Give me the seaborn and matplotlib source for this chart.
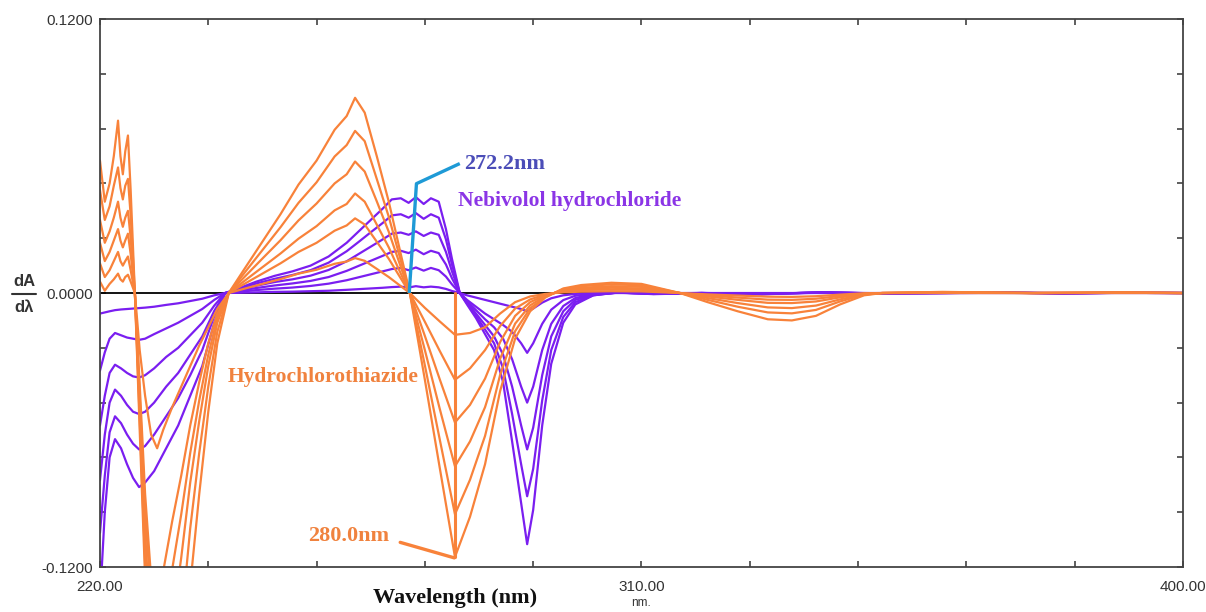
import numpy as np
import pandas as pd
import matplotlib
matplotlib.use("Agg")
import matplotlib.pyplot as plt
import seaborn as sns
from matplotlib.lines import Line2D

# ---------------- data ----------------
wl_hctz = [220.0, 220.8, 221.6, 222.3, 223.0, 223.4, 223.8, 224.2, 224.65, 225.1,
           225.8, 226.6, 227.5, 228.5, 229.5, 230.5, 232.0, 233.5, 235.0, 236.5, 238.0, 239.5, 241.4,
           244.0, 247.0, 250.0, 253.0, 256.0, 259.0, 261.0, 262.4, 264.0, 266.0, 268.0, 270.0, 271.5,
           274.0, 276.5, 279.0, 281.5, 284.0, 286.5, 289.0, 291.5, 294.0, 297.0, 300.0, 305.0, 310.0,
           316.4, 321.0, 326.0, 331.0, 335.0, 339.0, 343.0, 347.0, 350.0, 360.0, 375.0, 390.0, 400.0]

hctz_1 = [0.058, 0.040, 0.048, 0.060, 0.0755, 0.060, 0.052, 0.062, 0.069, 0.045,
          0.000, -0.060, -0.125, -0.190, -0.230, -0.245, -0.220, -0.175, -0.128, -0.088, -0.052, -0.022, 0.000,
          0.0105, 0.0225, 0.0345, 0.0475, 0.058, 0.0715, 0.0775, 0.0855, 0.079, 0.060, 0.040, 0.017, 0.000,
          -0.038, -0.077, -0.1156, -0.098, -0.075, -0.043, -0.020, -0.008, -0.002, 0.002, 0.0035, 0.0045, 0.004,
          0.000, -0.004, -0.008, -0.0115, -0.012, -0.010, -0.005, -0.001, 0.000, 0.0005, 0.000, 0.0003, 0.000]
hctz_2 = [0.045, 0.032, 0.038, 0.047, 0.055, 0.046, 0.041, 0.047, 0.050, 0.034,
          0.000, -0.055, -0.118, -0.165, -0.195, -0.200, -0.180, -0.145, -0.103, -0.070, -0.041, -0.017, 0.000,
          0.0088, 0.0188, 0.0288, 0.0395, 0.0485, 0.0598, 0.0648, 0.0710, 0.0665, 0.0500, 0.0334, 0.0142, 0.000,
          -0.0317, -0.0645, -0.0969, -0.0818, -0.0626, -0.0359, -0.0167, -0.0067, -0.0017, 0.0017, 0.0030, 0.0038, 0.0034,
          0.000, -0.003, -0.006, -0.0085, -0.0089, -0.0074, -0.0037, -0.0007, 0.000, 0.0004, 0.000, 0.0002, 0.000]
hctz_3 = [0.032, 0.022, 0.027, 0.033, 0.040, 0.033, 0.029, 0.033, 0.036, 0.024,
          0.000, -0.050, -0.105, -0.150, -0.165, -0.162, -0.145, -0.116, -0.083, -0.056, -0.032, -0.013, 0.000,
          0.0070, 0.0151, 0.0231, 0.0318, 0.0392, 0.0480, 0.0520, 0.0576, 0.0532, 0.0402, 0.0268, 0.0114, 0.000,
          -0.0250, -0.0510, -0.0759, -0.0650, -0.0500, -0.0288, -0.0134, -0.0054, -0.0013, 0.0013, 0.0023, 0.0030, 0.0027,
          0.000, -0.0022, -0.0044, -0.0063, -0.0066, -0.0055, -0.0028, -0.0006, 0.000, 0.0003, 0.000, 0.0002, 0.000]
hctz_4 = [0.022, 0.014, 0.018, 0.023, 0.028, 0.023, 0.020, 0.023, 0.026, 0.017,
          0.000, -0.045, -0.095, -0.135, -0.142, -0.136, -0.121, -0.097, -0.070, -0.047, -0.027, -0.011, 0.000,
          0.0053, 0.0113, 0.0173, 0.0238, 0.0293, 0.0362, 0.0390, 0.0436, 0.0400, 0.0300, 0.0200, 0.0085, 0.000,
          -0.0188, -0.0380, -0.0567, -0.0490, -0.0375, -0.0215, -0.0100, -0.0040, -0.0010, 0.0010, 0.0018, 0.0023, 0.0020,
          0.000, -0.0015, -0.0030, -0.0043, -0.0044, -0.0037, -0.0019, -0.0004, 0.000, 0.0002, 0.000, 0.0001, 0.000]
hctz_5 = [0.013, 0.007, 0.010, 0.014, 0.018, 0.014, 0.012, 0.014, 0.016, 0.010,
          0.000, -0.040, -0.088, -0.125, -0.135, -0.122, -0.100, -0.080, -0.058, -0.039, -0.022, -0.009, 0.000,
          0.0040, 0.0085, 0.0130, 0.0180, 0.0220, 0.0273, 0.0296, 0.0327, 0.0300, 0.0225, 0.0150, 0.0064, 0.000,
          -0.0126, -0.0255, -0.0380, -0.0330, -0.0250, -0.0145, -0.0068, -0.0028, -0.0007, 0.0007, 0.0013, 0.0016, 0.0014,
          0.000, -0.0010, -0.0020, -0.0029, -0.0030, -0.0025, -0.0013, -0.0003, 0.000, 0.0001, 0.000, 0.0001, 0.000]
hctz_6 = [0.005, 0.001, 0.004, 0.006, 0.0085, 0.006, 0.005, 0.007, 0.008, 0.005,
          0.000, -0.025, -0.045, -0.062, -0.068, -0.060, -0.050, -0.041, -0.032, -0.023, -0.015, -0.007, 0.000,
          0.0019, 0.0040, 0.0061, 0.0085, 0.0102, 0.0128, 0.0138, 0.0153, 0.0141, 0.0106, 0.0070, 0.0030, 0.000,
          -0.0065, -0.0125, -0.0183, -0.0175, -0.0150, -0.0090, -0.0040, -0.0015, -0.0004, 0.0003, 0.0006, 0.0008, 0.0007,
          0.000, -0.0006, -0.0011, -0.0016, -0.0017, -0.0014, -0.0007, -0.0001, 0.000, 0.000, 0.000, 0.000, 0.000]

wl_nebi = [220.0, 220.8, 221.6, 222.5, 223.5, 224.5, 225.5, 226.5, 227.5, 229.0, 231.0, 233.0, 235.0, 237.0, 239.0, 240.8,
           243.0, 246.0, 249.0, 252.0, 255.0, 258.0, 261.0, 263.0, 265.0, 267.0, 268.5,
           270.0, 271.3, 272.5, 273.8, 275.0, 276.3, 277.5, 278.5, 279.8,
           281.0, 282.5, 284.0, 285.5, 287.0, 288.5, 290.0, 291.0, 292.0, 293.5, 295.0, 297.0, 299.0, 302.0,
           306.0, 312.0, 320.0, 330.0, 340.0, 350.0, 360.0, 370.0, 380.0, 390.0, 400.0]

nebi_1 = [-0.135, -0.096, -0.072, -0.064, -0.068, -0.075, -0.081, -0.085, -0.083, -0.078, -0.068, -0.058, -0.045, -0.032, -0.013, 0.000,
          0.002, 0.005, 0.0075, 0.0095, 0.012, 0.016, 0.022, 0.027, 0.032, 0.037, 0.041,
          0.0415, 0.0395, 0.042, 0.039, 0.0415, 0.040, 0.028, 0.015, 0.000,
          -0.005, -0.011, -0.018, -0.025, -0.039, -0.065, -0.092, -0.110, -0.095, -0.058, -0.031, -0.013, -0.005, -0.001,
          0.0003, -0.0005, 0.000, -0.0006, 0.0004, -0.0003, 0.000, 0.0003, -0.0003, 0.0002, 0.000]
nebi_2 = [-0.105, -0.080, -0.061, -0.054, -0.057, -0.062, -0.066, -0.0685, -0.067, -0.062, -0.054, -0.046, -0.036, -0.025, -0.010, 0.000,
          0.0017, 0.0042, 0.0062, 0.0079, 0.010, 0.0133, 0.0183, 0.0224, 0.0266, 0.0307, 0.034,
          0.0345, 0.033, 0.035, 0.0325, 0.0345, 0.033, 0.0235, 0.0125, 0.000,
          -0.0045, -0.010, -0.016, -0.022, -0.033, -0.053, -0.075, -0.089, -0.077, -0.047, -0.025, -0.0105, -0.004, -0.001,
          0.0002, -0.0004, 0.000, -0.0005, 0.0003, -0.0002, 0.000, 0.0002, -0.0002, 0.0001, 0.000]
nebi_3 = [-0.082, -0.062, -0.048, -0.0423, -0.045, -0.049, -0.052, -0.053, -0.052, -0.048, -0.041, -0.035, -0.027, -0.019, -0.0078, 0.000,
          0.0013, 0.0032, 0.0048, 0.006, 0.0076, 0.0101, 0.0139, 0.0171, 0.0203, 0.0235, 0.026,
          0.0265, 0.0255, 0.027, 0.025, 0.0265, 0.0255, 0.018, 0.0095, 0.000,
          -0.004, -0.009, -0.014, -0.019, -0.027, -0.041, -0.058, -0.0685, -0.059, -0.036, -0.019, -0.008, -0.003, -0.0008,
          0.0002, -0.0003, 0.000, -0.0004, 0.0002, -0.0002, 0.000, 0.0002, -0.0001, 0.0001, 0.000]
nebi_4 = [-0.058, -0.045, -0.035, -0.0314, -0.033, -0.035, -0.0365, -0.037, -0.036, -0.033, -0.028, -0.024, -0.0185, -0.013, -0.0055, 0.000,
          0.0009, 0.0022, 0.0033, 0.0042, 0.0053, 0.007, 0.0097, 0.0119, 0.0141, 0.0163, 0.018,
          0.0185, 0.0175, 0.019, 0.017, 0.0185, 0.0175, 0.0125, 0.0065, 0.000,
          -0.0035, -0.0075, -0.0115, -0.015, -0.020, -0.029, -0.041, -0.048, -0.041, -0.025, -0.0135, -0.0057, -0.0022, -0.0005,
          0.0001, -0.0002, 0.000, -0.0003, 0.0002, -0.0001, 0.000, 0.0001, -0.0001, 0.0001, 0.000]
nebi_5 = [-0.034, -0.026, -0.020, -0.0175, -0.0185, -0.0195, -0.020, -0.0205, -0.020, -0.018, -0.0155, -0.013, -0.010, -0.007, -0.003, 0.000,
          0.0005, 0.0013, 0.0019, 0.0024, 0.0031, 0.0041, 0.0056, 0.0069, 0.0082, 0.0095, 0.0105,
          0.011, 0.010, 0.0112, 0.0098, 0.011, 0.010, 0.0072, 0.0038, 0.000,
          -0.003, -0.006, -0.009, -0.0115, -0.014, -0.017, -0.022, -0.0262, -0.022, -0.0135, -0.0073, -0.0031, -0.0012, -0.0003,
          0.0001, -0.0001, 0.000, -0.0002, 0.0001, -0.0001, 0.000, 0.0001, 0.000, 0.0001, 0.000]
nebi_6 = [-0.009, -0.0085, -0.008, -0.0075, -0.0072, -0.007, -0.0068, -0.0066, -0.0064, -0.006, -0.0052, -0.0045, -0.0035, -0.0025, -0.001, 0.000,
          0.0001, 0.0003, 0.0005, 0.0006, 0.0008, 0.001, 0.0014, 0.0017, 0.002, 0.0023, 0.0026,
          0.0028, 0.0024, 0.003, 0.0025, 0.0028, 0.0025, 0.0018, 0.0009, 0.000,
          -0.001, -0.002, -0.003, -0.004, -0.005, -0.006, -0.007, -0.008, -0.0068, -0.0042, -0.0023, -0.001, -0.0004, 0.000,
          0.0, 0.0, 0.0, 0.0, 0.0, 0.0, 0.0, 0.0, 0.0, 0.0, 0.0]

x_tick_labels = ["220.00", "", "", "", "", "310.00", "", "", "", "", "400.00"]
y_tick_labels = ["-0.1200", "", "", "", "", "0.0000", "", "", "", "", "0.1200"]

# ---------------- build long table ----------------
frames = []
for i, vals in enumerate([nebi_1, nebi_2, nebi_3, nebi_4, nebi_5, nebi_6]):
    frames.append(pd.DataFrame({"wl": wl_nebi, "val": vals, "family": "Nebivolol", "curve": f"N{i}"}))
for i, vals in enumerate([hctz_1, hctz_2, hctz_3, hctz_4, hctz_5, hctz_6]):
    frames.append(pd.DataFrame({"wl": wl_hctz, "val": vals, "family": "HCTZ", "curve": f"H{i}"}))
df = pd.concat(frames, ignore_index=True)

PURPLE = "#7A1EF0"
ORANGE = "#F8823A"

sns.set_theme(style="white")
plt.rcParams["font.family"] = ["Liberation Sans", "DejaVu Sans"]

fig = plt.figure(figsize=(12.06, 6.12), dpi=100)
ax = fig.add_axes([0.0829, 0.0735, 0.898, 0.8954])

ax.axhline(0, color="black", lw=1.3, zorder=1)

for fam, col in [("Nebivolol", PURPLE), ("HCTZ", ORANGE)]:
    sub = df[df["family"] == fam]
    sns.lineplot(data=sub, x="wl", y="val", units="curve", estimator=None,
                 color=col, lw=1.6, ax=ax, sort=False, zorder=2)

ax.set_xlim(220, 400)
ax.set_ylim(-0.12, 0.12)
ax.set_xticks(np.linspace(220, 400, 11))
ax.set_xticklabels(x_tick_labels)
ax.set_yticks(np.linspace(-0.12, 0.12, 11))
ax.set_yticklabels(y_tick_labels)
ax.set_xlabel("")
ax.set_ylabel("")
ax.tick_params(axis="both", which="major", direction="in", length=4, width=1.1,
               color="#333333", labelcolor="#333333", labelsize=11,
               bottom=True, left=True, top=True, right=True)
ax.tick_params(axis="x", pad=9)
ax.tick_params(axis="y", pad=5)
for sp in ax.spines.values():
    sp.set_color("#444444")
    sp.set_linewidth(1.3)

serif = ["Liberation Serif", "DejaVu Serif"]

# 272.2 nm pointer (cyan)
ax.plot([271.4, 272.6, 279.8], [0.0, 0.0479, 0.0567], color="#1E9AD6", lw=2.4,
        solid_capstyle="butt", zorder=4)
ax.text(280.6, 0.0567, "272.2nm", color="#4B4DB8", fontsize=16, fontweight="bold",
        family=serif, ha="left", va="center")
ax.text(279.5, 0.0401, "Nebivolol hydrochloride", color="#8B35E6", fontsize=15.5,
        fontweight="bold", family=serif, ha="left", va="center")

# 280.0 nm marker (orange)
ax.plot([279.0, 279.0], [0.0, -0.1156], color=ORANGE, lw=2.2, zorder=4)
ax.plot([269.9, 278.9], [-0.1092, -0.1160], color=ORANGE, lw=2.4, zorder=4)
ax.text(254.6, -0.1065, "280.0nm", color="#F0823E", fontsize=16, fontweight="bold",
        family=serif, ha="left", va="center")
ax.text(241.3, -0.0367, "Hydrochlorothiazide", color="#F0823E", fontsize=15.5,
        fontweight="bold", family=serif, ha="left", va="center")

# axis titles
fig.text(455 / 1206, 1 - 598 / 612, "Wavelength (nm)", fontsize=16, fontweight="bold",
         family=serif, ha="center", va="center", color="#111111")
fig.text(641 / 1206, 1 - 603 / 612, "nm.", fontsize=8.5, ha="center", va="center", color="#333333")
fig.text(24 / 1206, 1 - 282 / 612, "dA", fontsize=12, fontweight="bold", ha="center",
         va="center", color="#333333")
fig.text(24 / 1206, 1 - 307 / 612, "dλ", fontsize=12, fontweight="bold", ha="center",
         va="center", color="#333333")
fig.add_artist(Line2D([12 / 1206, 36 / 1206], [1 - 294 / 612, 1 - 294 / 612],
                      color="#333333", lw=1.5))

fig.savefig("out.png", dpi=100)
